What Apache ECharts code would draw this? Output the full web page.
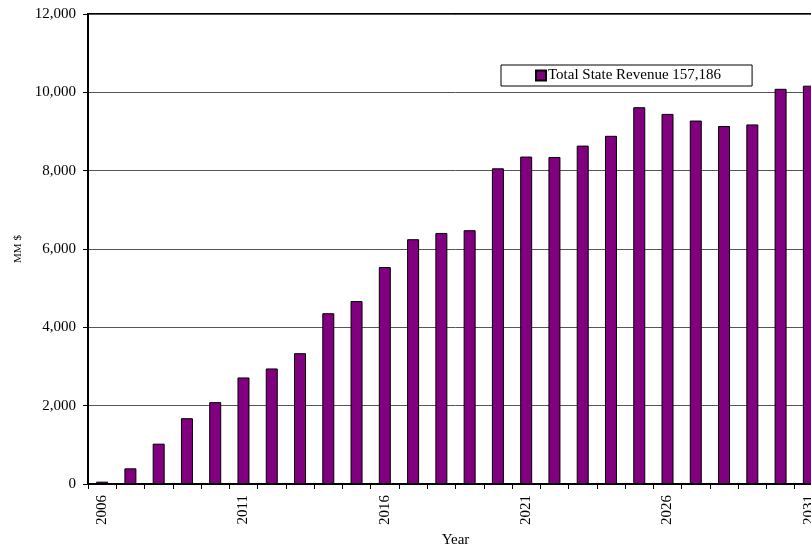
<!DOCTYPE html>
<html><head><meta charset="utf-8">
<script src="https://cdn.jsdelivr.net/npm/echarts@6/dist/echarts.min.js"></script>
<style>html,body{margin:0;padding:0;background:#fff;overflow:hidden;width:811px;height:548px}#c{width:835px;height:548px}</style>
</head><body><div id="c"></div>
<script>
const years = ['2006','2007','2008','2009','2010','2011','2012','2013','2014','2015','2016','2017','2018','2019','2020','2021','2022','2023','2024','2025','2026','2027','2028','2029','2030','2031'];
const revenue = [60,400,1030,1680,2090,2720,2950,3340,4360,4670,5540,6250,6410,6480,8060,8360,8350,8640,8890,9620,9450,9280,9140,9180,10090,10170];
const seriesName = 'Total State Revenue 157,186';
const font = 'Liberation Serif, Times New Roman, serif';
const chart = echarts.init(document.getElementById('c'));
chart.setOption({
  animation:false,
  textStyle:{fontFamily:font},
  grid:{left:88,top:14,right:12,bottom:64,outerBoundsMode:'none',containLabel:false,show:true,borderColor:'#000',borderWidth:2},
  legend:{
    left:501, top:65, orient:'horizontal',
    backgroundColor:'#fff', borderColor:'#000', borderWidth:1,
    padding:[3,31,3,34], itemWidth:10, itemHeight:10, icon:'rect',
    textStyle:{fontFamily:font,fontSize:15,lineHeight:15,color:'#000',padding:[0,0,0,-3]},
    data:[seriesName]
  },
  xAxis:{
    type:'category', data:years,
    name:'Year', nameLocation:'middle', nameGap:49,
    nameTextStyle:{fontFamily:font,fontSize:15,color:'#000'},
    axisLine:{lineStyle:{color:'#000',width:2}},
    axisTick:{show:true,alignWithLabel:false,interval:0,length:5,lineStyle:{color:'#000',width:1}},
    axisLabel:{interval:4,rotate:90,fontFamily:font,fontSize:15,color:'#000',margin:11}
  },
  yAxis:{
    type:'value', min:0, max:12000, interval:2000,
    name:'MM $', nameLocation:'middle', nameGap:63,
    nameTextStyle:{fontFamily:font,fontSize:11,color:'#000'},
    axisLine:{show:true,lineStyle:{color:'#000',width:2}},
    axisTick:{show:true,length:5,lineStyle:{color:'#000'}},
    axisLabel:{fontFamily:font,fontSize:15,color:'#000',margin:12,
      formatter:v=>v.toLocaleString('en-US')},
    splitLine:{lineStyle:{color:'#555',width:1}}
  },
  series:[{
    name:seriesName, type:'bar', data:revenue,
    barWidth:12,
    itemStyle:{color:'#800080',borderColor:'#000',borderWidth:1}
  }]
});
</script></body></html>
